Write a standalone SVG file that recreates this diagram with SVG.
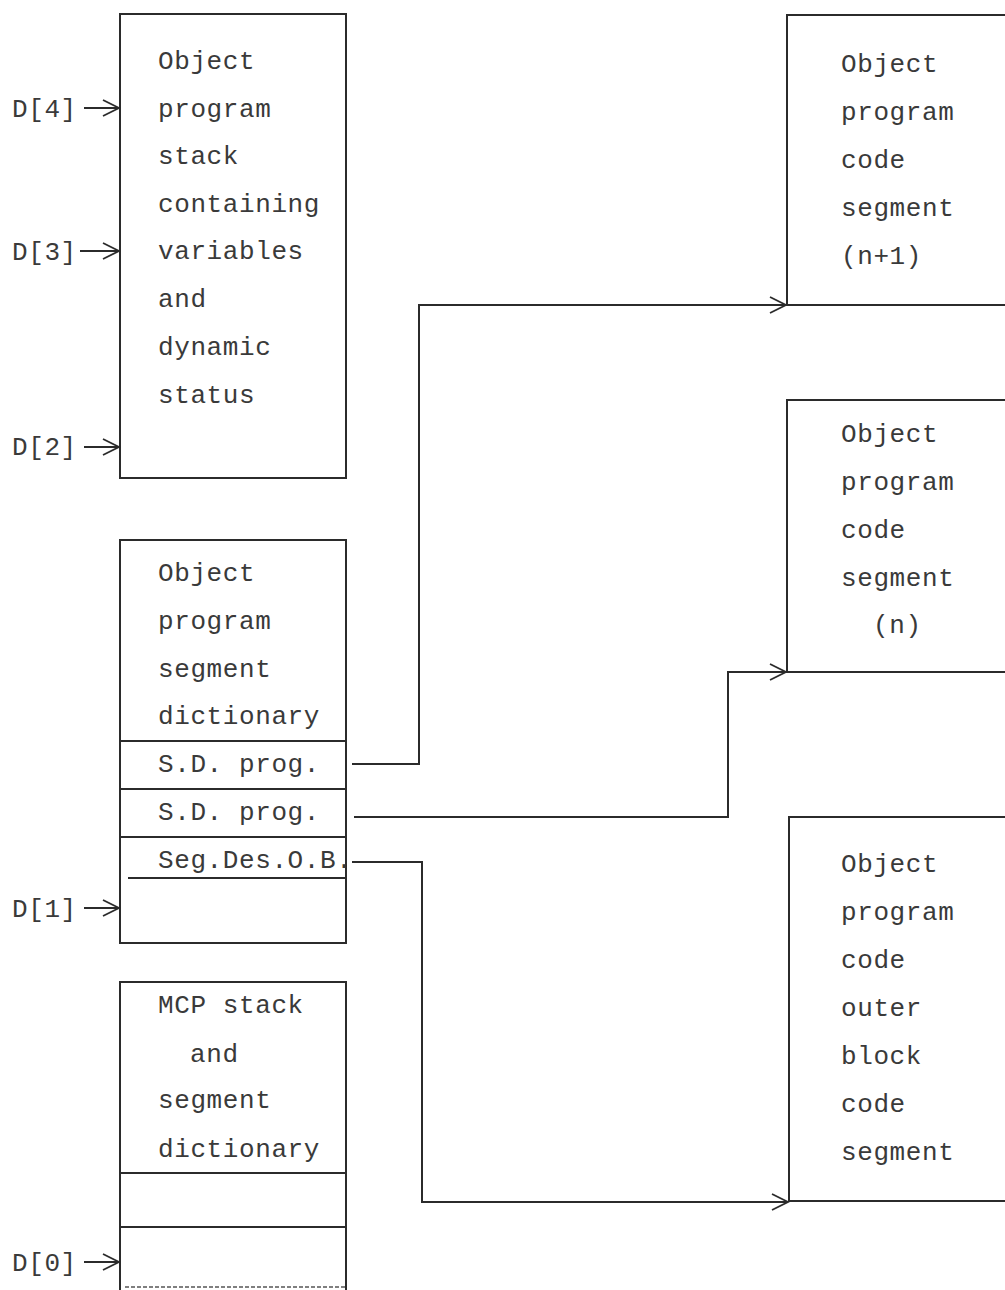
<svg xmlns="http://www.w3.org/2000/svg" width="1005" height="1290" viewBox="0 0 1005 1290">
<style>
  .box { fill: none; stroke: #2b2b2b; stroke-width: 2; }
  .line { fill: none; stroke: #2b2b2b; stroke-width: 2; }
  .dot { fill: none; stroke: #555; stroke-width: 1.5; stroke-dasharray: 4 2; }
  .t { font-family: "Liberation Mono", "Courier New", monospace; font-size: 26px; letter-spacing: 0.6px; fill: #3a3a3a; }
</style>
<defs>
  <marker id="arr" viewBox="0 0 20 20" refX="18" refY="10" markerWidth="20" markerHeight="20" markerUnits="userSpaceOnUse" orient="auto">
    <path d="M2,2 L18,10 L2,18" fill="none" stroke="#2b2b2b" stroke-width="1.8"/>
  </marker>
</defs>
<rect width="1005" height="1290" fill="#ffffff"/>

<g id="stack-box">
  <rect class="box" x="120" y="14" width="226" height="464"/>
  <text class="t" x="158" y="69">Object</text>
  <text class="t" x="158" y="117">program</text>
  <text class="t" x="158" y="164">stack</text>
  <text class="t" x="158" y="212">containing</text>
  <text class="t" x="158" y="259">variables</text>
  <text class="t" x="158" y="307">and</text>
  <text class="t" x="158" y="355">dynamic</text>
  <text class="t" x="158" y="403">status</text>
</g>

<g id="segment-dictionary">
  <rect class="box" x="120" y="540" width="226" height="403"/>
  <line class="line" x1="120" y1="741" x2="346" y2="741"/>
  <line class="line" x1="120" y1="789" x2="346" y2="789"/>
  <line class="line" x1="120" y1="837" x2="346" y2="837"/>
  <line class="line" x1="128" y1="878" x2="346" y2="878"/>
  <text class="t" x="158" y="581">Object</text>
  <text class="t" x="158" y="629">program</text>
  <text class="t" x="158" y="677">segment</text>
  <text class="t" x="158" y="724">dictionary</text>
  <text class="t" x="158" y="772">S.D. prog.</text>
  <text class="t" x="158" y="820">S.D. prog.</text>
  <text class="t" x="158" y="868">Seg.Des.O.B.</text>
</g>

<g id="mcp-stack">
  <path class="box" d="M120,1292 L120,982 L346,982 L346,1292"/>
  <line class="line" x1="120" y1="1173" x2="346" y2="1173"/>
  <line class="line" x1="120" y1="1227" x2="346" y2="1227"/>
  <line class="dot" x1="125" y1="1287" x2="346" y2="1287"/>
  <text class="t" x="158" y="1013">MCP stack</text>
  <text class="t" x="190" y="1062">and</text>
  <text class="t" x="158" y="1108">segment</text>
  <text class="t" x="158" y="1157">dictionary</text>
</g>

<g id="code-segment-n1">
  <path class="box" d="M1010,15 L787,15 L787,305 L1010,305"/>
  <text class="t" x="841" y="72">Object</text>
  <text class="t" x="841" y="120">program</text>
  <text class="t" x="841" y="168">code</text>
  <text class="t" x="841" y="216">segment</text>
  <text class="t" x="841" y="264">(n+1)</text>
</g>

<g id="code-segment-n">
  <path class="box" d="M1010,400 L787,400 L787,672 L1010,672"/>
  <text class="t" x="841" y="442">Object</text>
  <text class="t" x="841" y="490">program</text>
  <text class="t" x="841" y="538">code</text>
  <text class="t" x="841" y="586">segment</text>
  <text class="t" x="873" y="633">(n)</text>
</g>

<g id="outer-block-segment">
  <path class="box" d="M1010,817 L789,817 L789,1201 L1010,1201"/>
  <text class="t" x="841" y="872">Object</text>
  <text class="t" x="841" y="920">program</text>
  <text class="t" x="841" y="968">code</text>
  <text class="t" x="841" y="1016">outer</text>
  <text class="t" x="841" y="1064">block</text>
  <text class="t" x="841" y="1112">code</text>
  <text class="t" x="841" y="1160">segment</text>
</g>

<g id="d-labels">
  <text class="t" x="12" y="117">D[4]</text>
  <text class="t" x="12" y="260">D[3]</text>
  <text class="t" x="12" y="455">D[2]</text>
  <text class="t" x="12" y="917">D[1]</text>
  <text class="t" x="12" y="1271">D[0]</text>
</g>

<g id="connectors">
  <line class="line" x1="84" y1="108" x2="119" y2="108" marker-end="url(#arr)"/>
  <line class="line" x1="80" y1="251" x2="119" y2="251" marker-end="url(#arr)"/>
  <line class="line" x1="84" y1="447" x2="119" y2="447" marker-end="url(#arr)"/>
  <line class="line" x1="84" y1="908" x2="119" y2="908" marker-end="url(#arr)"/>
  <line class="line" x1="84" y1="1262" x2="119" y2="1262" marker-end="url(#arr)"/>
  <path class="line" d="M352,764 L419,764 L419,305 L786,305" marker-end="url(#arr)"/>
  <path class="line" d="M354,817 L728,817 L728,672 L786,672" marker-end="url(#arr)"/>
  <path class="line" d="M352,862 L422,862 L422,1202 L788,1202" marker-end="url(#arr)"/>
</g>
</svg>
